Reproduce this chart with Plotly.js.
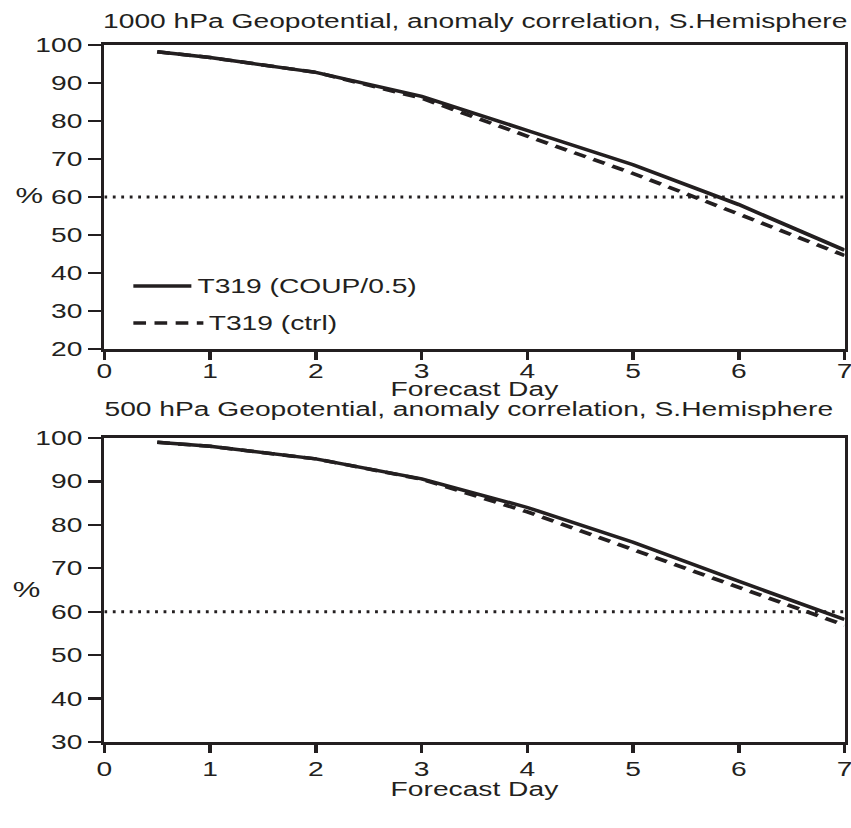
<!DOCTYPE html>
<html>
<head>
<meta charset="utf-8">
<script src="https://cdn.plot.ly/plotly-3.0.1.min.js"></script>
<style>
  html, body { margin: 0; padding: 0; background: #fff; overflow: hidden; }
  #chart { transform-origin: 0 0; }
</style>
</head>
<body>
<div id="chart"></div>
<script>
// ---- data ----
const days = [0.5, 1, 2, 3, 4, 5, 6, 7];
const top_coup = [98.2, 96.7, 92.8, 86.5, 77.5, 68.5, 58.0, 46.0];
const top_ctrl = [98.2, 96.7, 92.8, 86.0, 76.0, 66.2, 55.5, 44.6];
const bot_coup = [99.0, 98.1, 95.2, 90.6, 84.0, 76.0, 67.0, 58.2];
const bot_ctrl = [99.0, 98.1, 95.2, 90.5, 83.0, 74.3, 65.5, 56.9];
const seriesNames = ["T319 (COUP/0.5)", "T319 (ctrl)"];
const threshold = 60;
const xTicks = [0, 1, 2, 3, 4, 5, 6, 7];
const topYTicks = [20, 30, 40, 50, 60, 70, 80, 90, 100];
const botYTicks = [30, 40, 50, 60, 70, 80, 90, 100];
const titles = [
  "1000 hPa Geopotential, anomaly correlation, S.Hemisphere",
  "500 hPa Geopotential, anomaly correlation, S.Hemisphere"
];
const xTitle = "Forecast Day";
const yTitle = "%";

// ---- layout constants ----
const S = 1.41;                 // horizontal stretch of the reference
const W = 851 / S, H = 828;
const L = 104 / S, R = 844 / S, PW = R - L;
const px = v => (v / S - L) / PW;      // stretched page x -> paper x
const py = v => 1 - v / H;             // page y -> paper y
const INK = "#231f20";
const FONT = "Liberation Sans, Arial, Helvetica, sans-serif";
const FS = 20;

const chart = document.getElementById("chart");
chart.style.width = W + "px";
chart.style.height = H + "px";
chart.style.transform = "scaleX(" + S + ")";

const lineSolid = { color: INK, width: 3.5 };
const lineDash = { color: INK, width: 3.5, dash: "9px,6px" };

const traces = [
  { x: days, y: top_coup, xaxis: "x", yaxis: "y", mode: "lines", name: seriesNames[0], line: lineSolid },
  { x: days, y: top_ctrl, xaxis: "x", yaxis: "y", mode: "lines", name: seriesNames[1], line: lineDash },
  { x: days, y: bot_coup, xaxis: "x2", yaxis: "y2", mode: "lines", name: seriesNames[0], line: lineSolid },
  { x: days, y: bot_ctrl, xaxis: "x2", yaxis: "y2", mode: "lines", name: seriesNames[1], line: lineDash }
];

function xAxis(anchor, standoff) {
  return {
    anchor: anchor, domain: [0, 1], range: [0, 7], tickvals: xTicks,
    showgrid: false, zeroline: false, showline: true, mirror: true,
    linecolor: INK, linewidth: 2.6, ticks: "outside", ticklen: 8, tickwidth: 2.4,
    tickcolor: INK, tickfont: { family: FONT, size: FS, color: INK },
    ticklabelstandoff: standoff, ticklabeloverflow: "allow",
    automargin: false, fixedrange: true
  };
}
function yAxis(anchor, domain, range, ticks) {
  return {
    anchor: anchor, domain: domain, range: range, tickvals: ticks,
    showgrid: false, zeroline: false, showline: true, mirror: true,
    linecolor: INK, linewidth: 2.6, ticks: "outside", ticklen: 9, tickwidth: 2.4,
    tickcolor: INK, tickfont: { family: FONT, size: FS, color: INK },
    automargin: false, fixedrange: true
  };
}

const tfont = { family: FONT, size: FS, color: INK };

const layout = {
  width: W, height: H,
  margin: { l: L, r: W - R, t: 0, b: 0 },
  paper_bgcolor: "#fff", plot_bgcolor: "#fff",
  font: tfont,
  showlegend: false,
  xaxis: xAxis("y", -6),
  yaxis: yAxis("x", [py(349), py(45)], [20, 100], topYTicks),
  xaxis2: xAxis("y2", -1),
  yaxis2: yAxis("x2", [py(742), py(438)], [30, 100], botYTicks),
  shapes: [
    { type: "line", xref: "x", yref: "y", x0: 0, x1: 7, y0: threshold, y1: threshold,
      line: { color: INK, width: 3, dash: "2px,4px" }, layer: "below" },
    { type: "line", xref: "x2", yref: "y2", x0: 0, x1: 7, y0: threshold, y1: threshold,
      line: { color: INK, width: 3, dash: "2px,4px" }, layer: "below" },
    // legend samples
    { type: "line", xref: "paper", yref: "paper", x0: px(133), x1: px(191), y0: py(286), y1: py(286),
      line: lineSolid },
    { type: "line", xref: "paper", yref: "paper", x0: px(133), x1: px(203), y0: py(323), y1: py(323),
      line: lineDash }
  ],
  annotations: [
    { text: titles[0], xref: "paper", yref: "paper", x: px(100), y: py(21),
      xanchor: "left", yanchor: "middle", showarrow: false, font: tfont },
    { text: titles[1], xref: "paper", yref: "paper", x: px(101), y: py(409),
      xanchor: "left", yanchor: "middle", showarrow: false, font: tfont },
    { text: xTitle, xref: "paper", yref: "paper", x: 0.5, y: py(389),
      xanchor: "center", yanchor: "middle", showarrow: false, font: tfont },
    { text: xTitle, xref: "paper", yref: "paper", x: 0.5, y: py(789),
      xanchor: "center", yanchor: "middle", showarrow: false, font: tfont },
    { text: yTitle, xref: "paper", yref: "y", x: px(29), y: 60.5,
      xanchor: "center", yanchor: "middle", showarrow: false,
      font: { family: FONT, size: 22, color: INK } },
    { text: yTitle, xref: "paper", yref: "y2", x: px(26), y: 65.2,
      xanchor: "center", yanchor: "middle", showarrow: false,
      font: { family: FONT, size: 22, color: INK } },
    // legend labels
    { text: seriesNames[0], xref: "paper", yref: "paper", x: px(194), y: py(286),
      xanchor: "left", yanchor: "middle", showarrow: false, font: tfont },
    { text: seriesNames[1], xref: "paper", yref: "paper", x: px(205), y: py(323),
      xanchor: "left", yanchor: "middle", showarrow: false, font: tfont }
  ]
};

Plotly.newPlot(chart, traces, layout, { displayModeBar: false, staticPlot: true });
</script>
</body>
</html>
